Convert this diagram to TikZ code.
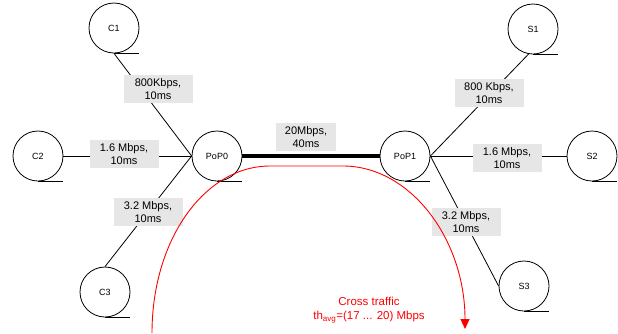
\documentclass[tikz,border=0pt]{standalone}
\usepackage{fontspec}
\setmainfont{Liberation Sans}
\usetikzlibrary{arrows.meta}
\definecolor{boxgray}{RGB}{230,230,230}
\begin{document}
\begin{tikzpicture}[x=1pt,y=-1pt,
  host/.style={circle,draw,line width=0.8pt,minimum size=50pt,inner sep=0pt,font=\fontsize{9}{10}\selectfont},
  link/.style={line width=0.8pt},
  lbl/.style={fill=boxgray,minimum width=69pt,minimum height=28pt,inner sep=0pt,align=center,font=\fontsize{11}{13}\selectfont}]
\useasboundingbox (0,0) rectangle (618,333);
% hosts
\node[host] (C1) at (114,28) {C1};
\node[host] (C2) at (38,156) {C2};
\node[host] (C3) at (105,292) {C3};
\node[host] (P0) at (217,156) {PoP0};
\node[host] (P1) at (405,156) {PoP1};
\node[host] (S1) at (533,29) {S1};
\node[host] (S2) at (592,156) {S2};
\node[host] (S3) at (524,286) {S3};
% queue lines
\foreach \n in {C1,C2,C3,P0,P1,S1,S2,S3}
  \draw[link] (\n.south) -- (\n.south -| \n.east);
% links
\draw[link] (C1.south) -- (P0.west);
\draw[link] (C2.east) -- (P0.west);
\draw[link] (C3.north) -- (P0.west);
\draw[link] (P1.east) -- (S1.-100);
\draw[link] (P1.east) -- (S2.west);
\draw[link] (P1.east) -- (S3.west);
\draw[line width=4.5pt] (P0.east) -- (P1.west);
% labels
\node[lbl] (l1) at (158,89) {800Kbps,\\10ms};
\node[lbl] (l2) at (124,154) {1.6 Mbps,\\10ms};
\node[lbl] (l3) at (148,212) {3.2 Mbps,\\10ms};
\node[lbl,minimum width=60pt] (l4) at (306,137) {20Mbps,\\40ms};
\node[lbl] (l5) at (489,93) {800 Kbps,\\10ms};
\node[lbl] (l6) at (507,158) {1.6 Mbps,\\10ms};
\node[lbl] (l7) at (466,222) {3.2 Mbps,\\10ms};
% cross traffic
\draw[red,line width=0.9pt,-{Triangle[width=9pt,length=10pt]}]
  (152,333) .. controls (152,239.4) and (204.8,166) .. (270,166)
  -- (343,166) .. controls (410.4,166) and (465,239.4) .. (465,329);
\node[red,align=center,font=\fontsize{11.5}{14}\selectfont] (ct) at (369,310) {Cross traffic\\th\textsubscript{avg}=(17 ... 20) Mbps};
\end{tikzpicture}
\end{document}
